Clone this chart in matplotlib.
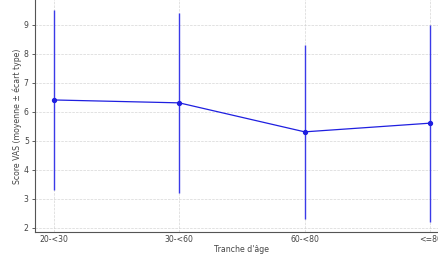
import matplotlib
matplotlib.use("Agg")
import matplotlib.pyplot as plt

# Données
tranches = ["20-<30", "30-<60", "60-<80", "<=80"]
moyennes = [6.4, 6.3, 5.3, 5.6]
ecarts = [3.1, 3.1, 3.0, 3.4]

fig = plt.figure(figsize=(4.39, 2.57), dpi=100)
# axes légèrement plus grands que la figure (image d'origine recadrée)
ax = fig.add_axes([0.0797, 0.096, 0.943, 0.906])

x = list(range(len(tranches)))
ax.errorbar(x, moyennes, yerr=ecarts, fmt="-o", color="#1f1fe0",
            ecolor="#3a3ae8", elinewidth=1.0, linewidth=0.9,
            markersize=2.8, capsize=0)

ax.set_xticks(x)
ax.set_xticklabels(tranches)
ax.set_yticks([2, 3, 4, 5, 6, 7, 8, 9])
ax.tick_params(labelsize=5.6, width=0.6, colors="#444444")
ax.tick_params(axis="x", length=0, pad=2)
ax.tick_params(axis="y", length=2.5, pad=2)
ax.set_xlabel("Tranche d'âge", fontsize=5.6, labelpad=1, color="#444444")
ax.set_ylabel("Score VAS (moyenne ± écart type)", fontsize=5.6, labelpad=1, color="#444444")
ax.grid(True, linestyle="--", linewidth=0.5, color="#cccccc", alpha=0.8)
ax.set_xlim(-0.15, 3.15)
ax.set_ylim(1.835, 9.865)
for s in ax.spines.values():
    s.set_linewidth(0.8)
    s.set_color("#555555")
ax.spines["right"].set_visible(False)
ax.spines["top"].set_visible(False)

fig.savefig("out.png", dpi=100)
